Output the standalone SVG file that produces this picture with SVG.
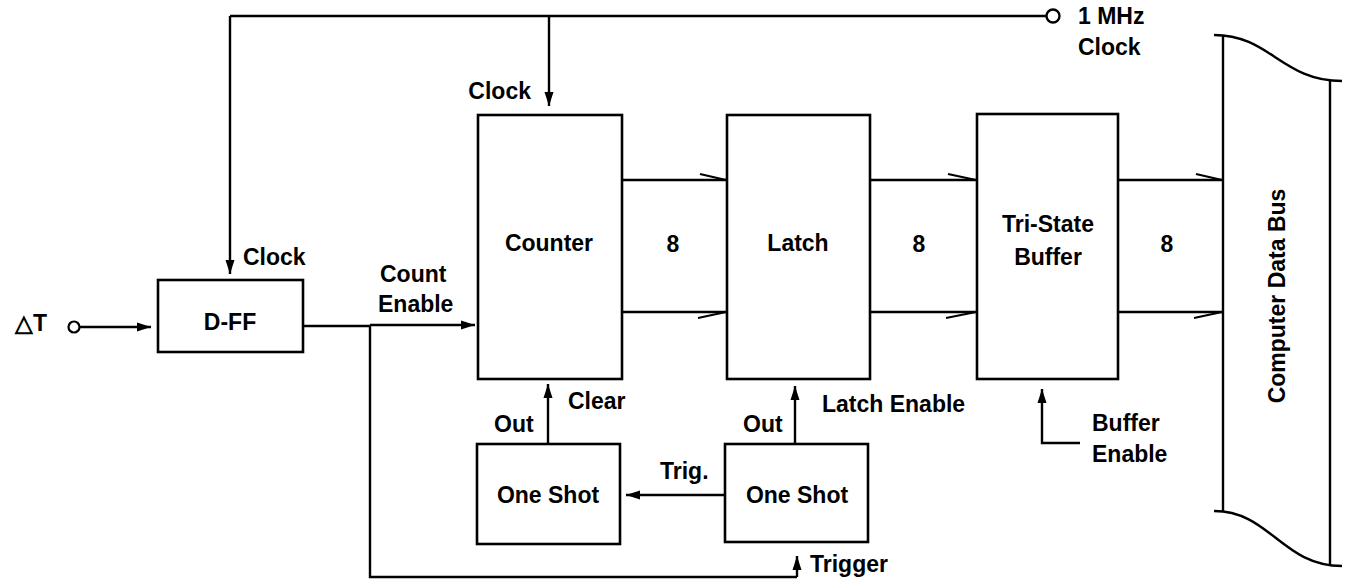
<svg xmlns="http://www.w3.org/2000/svg" width="1347" height="585" viewBox="0 0 1347 585">
  <style>
    .box { fill: #fff; stroke: #000; stroke-width: 2.6; }
    .wire { fill: none; stroke: #000; stroke-width: 2.4; }
    .arw { fill: none; stroke: #000; stroke-width: 2.4; marker-end: url(#head); }
    .barb { fill: none; stroke: #000; stroke-width: 2.2; }
    text { font-family: "Liberation Sans", Arial, sans-serif; font-weight: bold; font-size: 23px; fill: #000; }
    .c { text-anchor: middle; }
  </style>
  <defs>
    <marker id="head" markerUnits="userSpaceOnUse" markerWidth="16" markerHeight="10" refX="14" refY="5" orient="auto">
      <path d="M0,0.5 L14,5 L0,9.5 Z" fill="#000"/>
    </marker>
  </defs>

  <!-- connectors -->
  <g id="connectors">
    <!-- 1 MHz clock distribution -->
    <path class="wire" d="M1046,16 H230"/>
    <circle cx="1053" cy="16" r="6.5" fill="#fff" stroke="#000" stroke-width="2.4"/>
    <path class="arw" d="M230,16 V274"/>
    <path class="arw" d="M549,16 V106"/>
    <!-- delta T input -->
    <circle cx="74" cy="327" r="5.5" fill="#fff" stroke="#000" stroke-width="2.2"/>
    <path class="arw" d="M80,327 H151"/>
    <!-- D-FF output: count enable and trigger -->
    <path class="wire" d="M303,326 H370 V577 H797"/>
    <path class="arw" d="M370,325 H475"/>
    <path class="arw" d="M797,577 V556"/>
    <!-- one shot outputs -->
    <path class="arw" d="M548,444 V384"/>
    <path class="arw" d="M795,444 V386"/>
    <!-- trig between one shots -->
    <path class="arw" d="M725,495 H626"/>
    <!-- buffer enable -->
    <path class="arw" d="M1080,443 H1042 V389"/>
    <!-- 8-bit busses -->
    <path class="wire" d="M622,180 H727 M622,312 H727"/>
    <path class="barb" d="M700,174 L726,180 M698,318 L726,312"/>
    <path class="wire" d="M870,180 H977 M870,312 H977"/>
    <path class="barb" d="M948,174 L976,180 M946,318 L976,312"/>
    <path class="wire" d="M1118,180 H1223 M1118,312 H1223"/>
    <path class="barb" d="M1196,174 L1222,180 M1194,318 L1222,312"/>
  </g>

  <!-- terminal labels -->
  <g id="labels">
    <text x="15" y="331">△T</text>
    <text x="1078" y="24">1 MHz</text>
    <text x="1078" y="55">Clock</text>
    <text x="531" y="99" text-anchor="end">Clock</text>
    <text x="243" y="265">Clock</text>
    <text x="380" y="282">Count</text>
    <text x="378" y="312">Enable</text>
    <text x="568" y="409">Clear</text>
    <text x="494" y="432">Out</text>
    <text x="743" y="432">Out</text>
    <text x="822" y="412">Latch Enable</text>
    <text x="660" y="479">Trig.</text>
    <text x="810" y="572">Trigger</text>
    <text x="1092" y="431">Buffer</text>
    <text x="1092" y="462">Enable</text>
    <text class="c" x="673" y="252">8</text>
    <text class="c" x="919" y="252">8</text>
    <text class="c" x="1167" y="252">8</text>
  </g>

  <g id="dff">
    <rect class="box" x="158" y="280" width="145" height="72"/>
    <text class="c" x="230" y="330">D-FF</text>
  </g>

  <g id="counter">
    <rect class="box" x="478" y="115" width="144" height="264"/>
    <text class="c" x="549" y="251">Counter</text>
  </g>

  <g id="latch">
    <rect class="box" x="727" y="115" width="143" height="264"/>
    <text class="c" x="798" y="251">Latch</text>
  </g>

  <g id="tristate">
    <rect class="box" x="977" y="114" width="141" height="265"/>
    <text class="c" x="1048" y="232">Tri-State</text>
    <text class="c" x="1048" y="265">Buffer</text>
  </g>

  <g id="oneshot-clear">
    <rect class="box" x="477" y="444" width="143" height="100"/>
    <text class="c" x="548" y="503">One Shot</text>
  </g>

  <g id="oneshot-latch">
    <rect class="box" x="725" y="444" width="143" height="98"/>
    <text class="c" x="797" y="503">One Shot</text>
  </g>

  <g id="databus">
    <path class="wire" d="M1214,35 C1270,35 1282,81 1342,81"/>
    <path class="wire" d="M1214,511 C1270,511 1282,566 1342,566"/>
    <path class="wire" d="M1223,35 V511 M1330,81 V566"/>
    <text class="c" transform="translate(1285,296) rotate(-90)">Computer Data Bus</text>
  </g>
</svg>
